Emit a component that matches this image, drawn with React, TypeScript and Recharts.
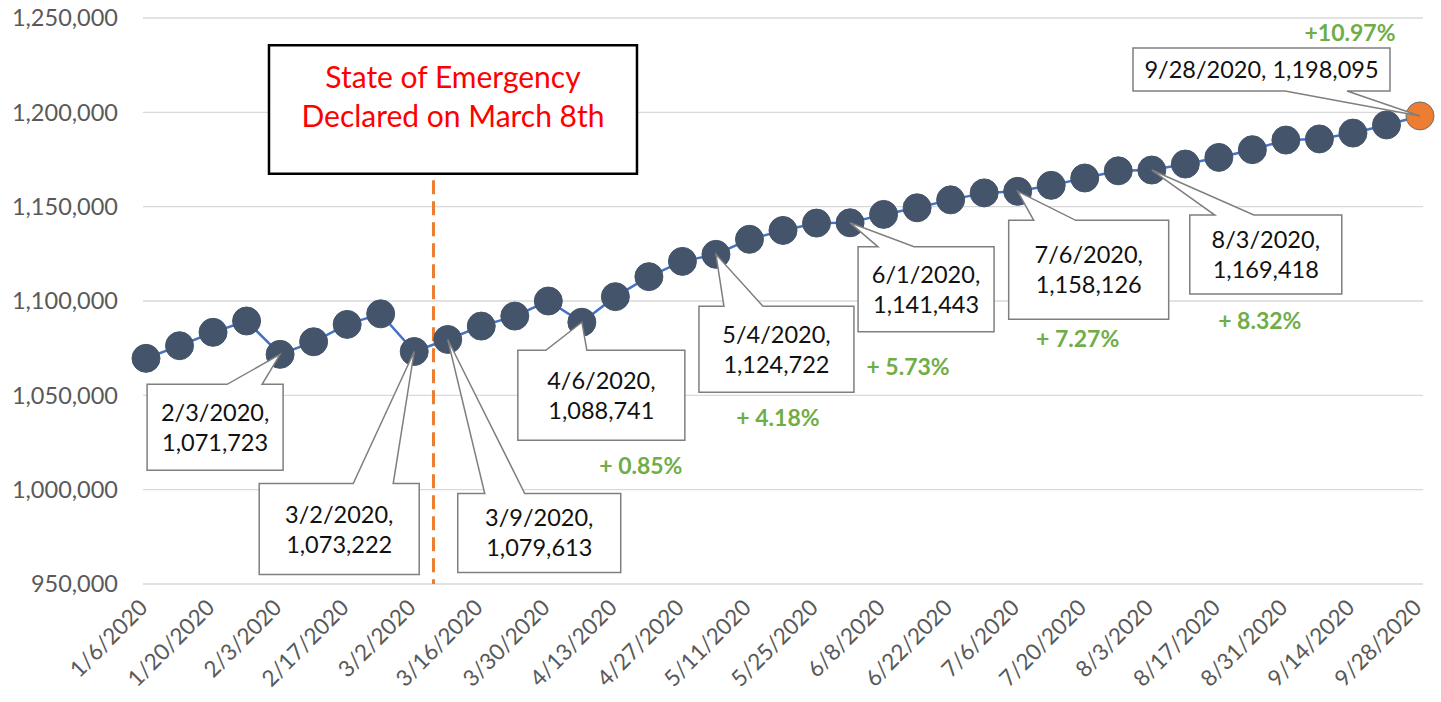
import React from "react";
import { LineChart, Line, XAxis, YAxis, CartesianGrid, ReferenceLine, ReferenceDot } from "recharts";

// weekly values (the labelled ones are exact)
const DATES = [
  "1/6/2020", "1/13/2020", "1/20/2020", "1/27/2020", "2/3/2020", "2/10/2020", "2/17/2020", "2/24/2020",
  "3/2/2020", "3/9/2020", "3/16/2020", "3/23/2020", "3/30/2020", "4/6/2020", "4/13/2020", "4/20/2020",
  "4/27/2020", "5/4/2020", "5/11/2020", "5/18/2020", "5/25/2020", "6/1/2020", "6/8/2020", "6/15/2020",
  "6/22/2020", "6/29/2020", "7/6/2020", "7/13/2020", "7/20/2020", "7/27/2020", "8/3/2020", "8/10/2020",
  "8/17/2020", "8/24/2020", "8/31/2020", "9/7/2020", "9/14/2020", "9/21/2020", "9/28/2020",
];
const VALUES = [
  1069600, 1076300, 1083400, 1089400, 1071723, 1078400, 1087600, 1093200,
  1073222, 1079613, 1086700, 1092000, 1100000, 1088741, 1102300, 1112900,
  1121000, 1124722, 1132700, 1137400, 1141300, 1141443, 1145900, 1149400,
  1153600, 1157300, 1158126, 1161300, 1165200, 1169000, 1169418, 1172600,
  1176100, 1180200, 1185300, 1185900, 1189000, 1193300, 1198095,
];
const Y_TICKS = [950000, 1000000, 1050000, 1100000, 1150000, 1200000, 1250000];
const X_TICK_LABELS = [
  "1/6/2020", "1/20/2020", "2/3/2020", "2/17/2020", "3/2/2020", "3/16/2020", "3/30/2020", "4/13/2020",
  "4/27/2020", "5/11/2020", "5/25/2020", "6/8/2020", "6/22/2020", "7/6/2020", "7/20/2020", "8/3/2020",
  "8/17/2020", "8/31/2020", "9/14/2020", "9/28/2020",
];
const CALLOUT_DATES = ["2/3/2020", "3/2/2020", "3/9/2020", "4/6/2020", "5/4/2020", "6/1/2020", "7/6/2020", "8/3/2020", "9/28/2020"];
const GROWTH_DATES = ["4/6/2020", "5/4/2020", "6/1/2020", "7/6/2020", "8/3/2020", "9/28/2020"];
const GROWTH_LABELS = ["+ 0.85%", "+ 4.18%", "+ 5.73%", "+ 7.27%", "+ 8.32%", "+10.97%"];
const EMERGENCY_TITLE = ["State of Emergency", "Declared on March 8th"];
const EMERGENCY_AT = 8.575; // week-index position of March 8th
const EMERGENCY_TOP = 1164000;

const data = DATES.map((date, i) => ({ i, date, value: VALUES[i] }));
const xTicks = X_TICK_LABELS.map((d) => DATES.indexOf(d));

const FONT = "Lato, 'Open Sans', sans-serif";
const fmt = (v: number) => v.toLocaleString("en-US");

// box placement relative to the point it points at
type Layout = { dx: number; dy: number; w: number; h: number; side: "top" | "bottom"; b0: number; b1: number; oneLine?: boolean };
const CALLOUT_LAYOUT: Record<string, Layout> = {
  "2/3/2020": { dx: -133, dy: 30, w: 136, h: 86, side: "top", b0: -53, b1: -18 },
  "3/2/2020": { dx: -155, dy: 132, w: 160, h: 91, side: "top", b0: -61, b1: -21 },
  "3/9/2020": { dx: 10, dy: 154, w: 163, h: 79, side: "top", b0: 37, b1: 77 },
  "4/6/2020": { dx: -64, dy: 28, w: 167, h: 90, side: "top", b0: -36, b1: 5 },
  "5/4/2020": { dx: -17, dy: 52, w: 155, h: 86, side: "top", b0: 8, b1: 47 },
  "6/1/2020": { dx: 8, dy: 24, w: 136, h: 85, side: "top", b0: 28, b1: 64 },
  "7/6/2020": { dx: -9, dy: 29, w: 160, h: 99, side: "top", b0: 16, b1: 58 },
  "8/3/2020": { dx: 38, dy: 45, w: 152, h: 79, side: "top", b0: 63, b1: 102 },
  "9/28/2020": { dx: -287, dy: -68, w: 257, h: 43, side: "bottom", b0: -135, b1: -73, oneLine: true },
};
const GROWTH_OFFSET: Record<string, [number, number]> = {
  "4/6/2020": [59, 144],
  "5/4/2020": [62, 164],
  "6/1/2020": [58, 144],
  "7/6/2020": [60, 148],
  "8/3/2020": [108, 151],
  "9/28/2020": [-70, -83],
};

const renderDot = (props: any) => {
  const { cx, cy, index } = props;
  const last = index === DATES.length - 1;
  return (
    <circle
      key={`dot-${index}`}
      cx={cx}
      cy={cy}
      r={14}
      fill={last ? "#ED7D31" : "#44546A"}
      stroke={last ? "#6F6F6F" : "#44546A"}
      strokeWidth={1}
    />
  );
};

const renderCallout = (props: any) => {
  const { cx, cy, index, payload } = props;
  const date = payload.date;
  const parts: React.ReactNode[] = [];
  if (CALLOUT_DATES.includes(date)) {
    const L = CALLOUT_LAYOUT[date];
    const bx = cx + L.dx;
    const by = cy + L.dy;
    const x0 = cx + L.b0;
    const x1 = cx + L.b1;
    const d =
      L.side === "top"
        ? `M${bx},${by} L${x0},${by} L${cx},${cy} L${x1},${by} L${bx + L.w},${by} L${bx + L.w},${by + L.h} L${bx},${by + L.h} Z`
        : `M${bx},${by} L${bx + L.w},${by} L${bx + L.w},${by + L.h} L${x1},${by + L.h} L${cx},${cy} L${x0},${by + L.h} L${bx},${by + L.h} Z`;
    const mx = bx + L.w / 2;
    const my = by + L.h / 2;
    const lines = L.oneLine ? [`${date}, ${fmt(payload.value)}`] : [`${date},`, fmt(payload.value)];
    parts.push(<path key="box" d={d} fill="#FFFFFF" stroke="#7F7F7F" strokeWidth={1.5} />);
    lines.forEach((t, k) => {
      const base = L.oneLine ? my + 8.5 : my - 6.5 + k * 30;
      parts.push(
        <text key={`t${k}`} x={mx} y={base} textAnchor="middle" fontSize={23.5} fontFamily={FONT} fill="#111111">
          {t}
        </text>,
      );
    });
  }
  const g = GROWTH_DATES.indexOf(date);
  if (g >= 0) {
    const [gx, gy] = GROWTH_OFFSET[date];
    parts.push(
      <text key="g" x={cx + gx} y={cy + gy + 8} textAnchor="middle" fontSize={23} fontWeight={700} fontFamily={FONT} fill="#70AD47">
        {GROWTH_LABELS[g]}
      </text>,
    );
  }
  return <g key={`callout-${index}`}>{parts}</g>;
};

const renderTitle = (props: any) => {
  const { cx, cy } = props;
  const left = cx - 164.5;
  const top = cy - 135;
  return (
    <g>
      <rect x={left} y={top} width={368} height={128.5} fill="#FFFFFF" stroke="#000000" strokeWidth={2.5} />
      {EMERGENCY_TITLE.map((t, k) => (
        <text key={k} x={left + 184} y={top + 43 + k * 39} textAnchor="middle" fontSize={30} fontFamily={FONT} fill="#FF0000">
          {t}
        </text>
      ))}
    </g>
  );
};

const XTick = (props: any) => {
  const { x, y, payload } = props;
  const ax = x + 3;
  const ay = y + 25;
  return (
    <text x={ax} y={ay} textAnchor="end" transform={`rotate(-45 ${ax} ${ay})`} fontSize={22.5} fontFamily={FONT} fill="#595959">
      {DATES[payload.value]}
    </text>
  );
};

export default function App() {
  return (
    <div style={{ position: "absolute", left: 0, top: 0, width: 1441, height: 702, background: "#FFFFFF" }}>
      <LineChart width={1441} height={702} data={data} margin={{ top: 18, right: 18, bottom: 0, left: 0 }}>
        <CartesianGrid vertical={false} stroke="#D9D9D9" strokeWidth={1.3} />
        <XAxis
          dataKey="i"
          type="number"
          domain={[0, DATES.length - 1]}
          ticks={xTicks}
          interval={0}
          padding={{ left: 3, right: 3 }}
          axisLine={false}
          tickLine={false}
          tickSize={0}
          tickMargin={0}
          height={118}
          tick={<XTick />}
        />
        <YAxis
          domain={[950000, 1250000]}
          ticks={Y_TICKS}
          tickFormatter={fmt}
          axisLine={false}
          tickLine={false}
          tickSize={0}
          tickMargin={25}
          width={143}
          tick={{ fill: "#595959", fontSize: 23.5, fontFamily: FONT }}
        />
        <ReferenceLine
          segment={[
            { x: EMERGENCY_AT, y: EMERGENCY_TOP },
            { x: EMERGENCY_AT, y: 950000 },
          ]}
          stroke="#ED7D31"
          strokeWidth={3}
          strokeDasharray="14 7"
        />
        <Line
          type="linear"
          dataKey="value"
          stroke="#4472C4"
          strokeWidth={2.5}
          dot={renderDot}
          activeDot={false}
          isAnimationActive={false}
        />
        <Line
          type="linear"
          dataKey="value"
          stroke="none"
          dot={renderCallout}
          activeDot={false}
          legendType="none"
          isAnimationActive={false}
        />
        <ReferenceDot x={EMERGENCY_AT} y={EMERGENCY_TOP} r={0} shape={renderTitle} />
      </LineChart>
    </div>
  );
}
